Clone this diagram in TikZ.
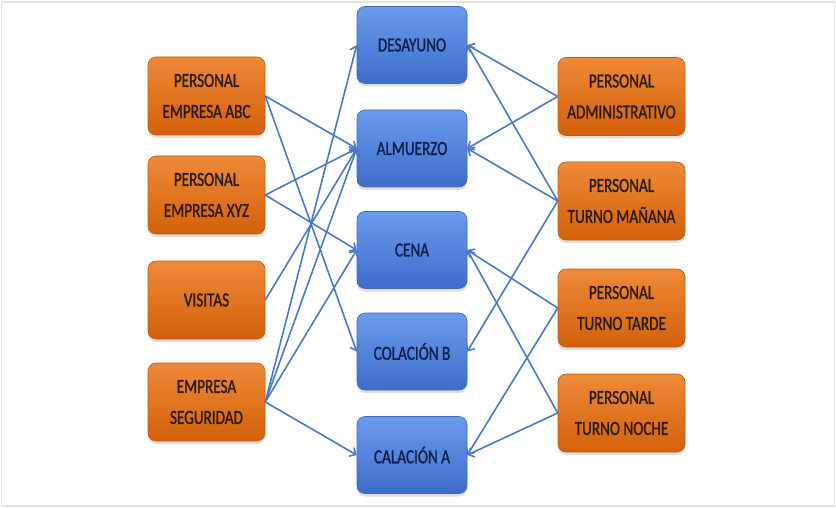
\documentclass[tikz,border=0pt]{standalone}
\usepackage{fontspec}
\usetikzlibrary{arrows.meta,shadows}
\newfontfamily\boxfont[FakeStretch=0.76,FakeBold=1.2]{Carlito}
\definecolor{orTop}{HTML}{EE8A38}
\definecolor{orBot}{HTML}{D4600A}
\definecolor{orEdge}{HTML}{C05A10}
\definecolor{blTop}{HTML}{6A9CEC}
\definecolor{blBot}{HTML}{3E6CCA}
\definecolor{blEdge}{HTML}{4068B8}
\definecolor{linkcol}{HTML}{4A78C8}
\definecolor{frameg}{HTML}{E4E4E4}
\definecolor{ortext}{HTML}{2A1A0A}
\definecolor{bltext}{HTML}{0C1F4A}
\tikzset{
  basebox/.style={rounded corners=8pt, align=center, inner sep=0pt,
    font=\boxfont\fontsize{20}{31}\selectfont,
    drop shadow={shadow xshift=0pt, shadow yshift=-3pt, opacity=0.25}},
  orbox/.style={basebox, draw=orEdge, line width=0.6pt, top color=orTop, bottom color=orBot,
    text=ortext, minimum height=78pt},
  leftbox/.style={orbox, minimum width=117pt},
  rightbox/.style={orbox, minimum width=127pt},
  midbox/.style={basebox, draw=blEdge, line width=0.6pt, top color=blTop, bottom color=blBot,
    text=bltext, minimum width=110pt, minimum height=77pt},
  link/.style={draw=linkcol, line width=1.6pt, -{Straight Barb[length=5pt,width=10pt]}}
}
\begin{document}
\begin{tikzpicture}[x=1pt,y=-1pt]
\useasboundingbox (0,0) rectangle (836,508);
\draw[frameg, line width=1.5pt] (1.5,2) rectangle (834.5,506);
% left
\node[leftbox] (abc) at (206.5,96) {PERSONAL\\EMPRESA ABC};
\node[leftbox] (xyz) at (206.5,195) {PERSONAL\\EMPRESA XYZ};
\node[leftbox] (vis) at (206.5,300) {VISITAS};
\node[leftbox] (seg) at (206.5,402) {EMPRESA\\SEGURIDAD};
% middle
\node[midbox] (des) at (412,45) {DESAYUNO};
\node[midbox] (alm) at (412,148.5) {ALMUERZO};
\node[midbox] (cen) at (412,250) {CENA};
\node[midbox] (colb) at (412,351.5) {COLACIÓN B};
\node[midbox] (cala) at (412,455) {CALACIÓN A};
% right
\node[rightbox] (adm) at (621.5,96.5) {PERSONAL\\ADMINISTRATIVO};
\node[rightbox] (man) at (621.5,201) {PERSONAL\\TURNO MAÑANA};
\node[rightbox] (tar) at (621.5,308) {PERSONAL\\TURNO TARDE};
\node[rightbox] (noc) at (621.5,413) {PERSONAL\\TURNO NOCHE};
% left links
\draw[link] (abc.east) -- (alm.west);
\draw[link] (abc.east) -- (colb.west);
\draw[link] (xyz.east) -- (alm.west);
\draw[link] (xyz.east) -- (cen.west);
\draw[link] (vis.east) -- (alm.west);
\draw[link] (seg.east) -- (des.west);
\draw[link] (seg.east) -- (alm.west);
\draw[link] (seg.east) -- (cen.west);
\draw[link] (seg.east) -- (cala.west);
% right links
\draw[link] (adm.west) -- (des.east);
\draw[link] (adm.west) -- (alm.east);
\draw[link] (man.west) -- (des.east);
\draw[link] (man.west) -- (alm.east);
\draw[link] (man.west) -- (colb.east);
\draw[link] (tar.west) -- (cen.east);
\draw[link] (tar.west) -- (cala.east);
\draw[link] (noc.west) -- (cen.east);
\draw[link] (noc.west) -- (cala.east);
\end{tikzpicture}
\end{document}
